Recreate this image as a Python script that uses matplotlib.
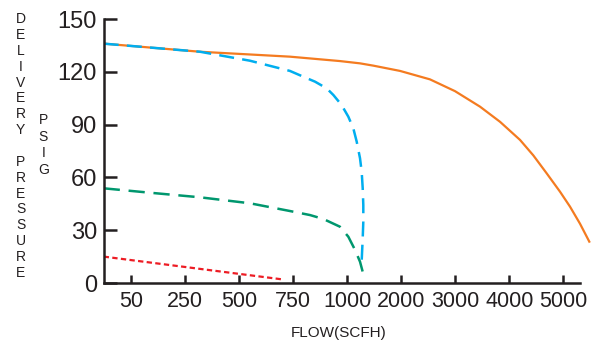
import numpy as np
import matplotlib
matplotlib.use("Agg")
import matplotlib.pyplot as plt
from matplotlib.ticker import FixedLocator, FixedFormatter

# Flow axis: tick values are evenly spaced on the chart, not proportional
flow_ticks = [50, 250, 500, 750, 1000, 2000, 3000, 4000, 5000]
tick_labels = ["50", "250", "500", "750", "1000", "2000", "3000", "4000", "5000"]
pressure_ticks = [0, 30, 60, 90, 120, 150]

# Regulator curves: flow (SCFH) vs delivery pressure (psig)
orange_flow = [25, 320, 736, 967, 1240, 1486, 1980, 2534, 2997, 3459, 3829,
               4199, 4445, 4692, 4938, 5123, 5308, 5480]
orange_psig = [136.0, 131.4, 128.6, 126.1, 124.8, 123.5, 120.5, 115.7, 109.0,
               100.2, 91.6, 81.3, 72.5, 62.3, 51.9, 43.4, 33.7, 23.5]

blue_flow = [25, 320, 551, 736, 798, 852, 906, 937, 975, 1024, 1116, 1179,
             1240, 1271, 1290, 1301, 1301, 1290, 1271]
blue_psig = [136.0, 131.4, 126.3, 120.5, 117.2, 114.4, 110.6, 106.8, 101.1,
             94.5, 87.9, 80.3, 70.9, 63.2, 53.8, 44.3, 34.8, 25.4, 12.5]

green_flow = [25, 121, 320, 551, 736, 829, 890, 967, 1024, 1148, 1240, 1314]
green_psig = [53.8, 51.3, 48.7, 45.3, 40.9, 38.6, 36.4, 32.0, 26.3, 18.8,
              12.1, 3.6]

red_flow = [25, 698]
red_psig = [15.0, 2.1]

# piecewise-linear flow scale (each labelled step takes the same width)
scale_flows = [0] + flow_ticks + [6000]
scale_pos = list(range(len(scale_flows)))


def fwd(x):
    return np.interp(x, scale_flows, scale_pos)


def inv(p):
    return np.interp(p, scale_pos, scale_flows)


W, H = 605, 345
fig = plt.figure(figsize=(W / 100, H / 100), dpi=100)
ax = fig.add_axes([104 / W, 62 / H, (592 - 104) / W, 264 / H])
ax.set_xscale("function", functions=(fwd, inv))

ink = "#231f20"
ax.plot(orange_flow, orange_psig, color="#f47b20", lw=1.6,
        solid_joinstyle="round")
ax.plot(blue_flow, blue_psig, color="#00aeef", lw=1.8, linestyle=(0, (6.0, 3.3)))
ax.plot(green_flow, green_psig, color="#00976e", lw=1.8, linestyle=(0, (6.5, 3.5)))
ax.plot(red_flow, red_psig, color="#ed1c24", lw=1.6, linestyle=(0, (2.4, 1.5)))

ax.set_xlim(25.3, 5530)
ax.set_ylim(0, 150)

for s in ["top", "right"]:
    ax.spines[s].set_visible(False)
for s in ["left", "bottom"]:
    ax.spines[s].set_linewidth(1.8)
    ax.spines[s].set_color(ink)
ax.spines["left"].set_bounds(0, 150)
ax.spines["bottom"].set_bounds(25.3, 5308)

ax.xaxis.set_major_locator(FixedLocator(flow_ticks))
ax.xaxis.set_major_formatter(FixedFormatter(tick_labels))
ax.xaxis.set_minor_locator(FixedLocator([]))
ax.set_yticks(pressure_ticks)

ax.tick_params(axis="y", direction="in", length=9.5, width=1.8, color=ink,
               pad=5, labelsize=17, labelcolor=ink)
ax.tick_params(axis="x", direction="in", length=6, width=1.8, color=ink,
               pad=6, labelsize=15.5, labelcolor=ink)
for lab in ax.get_xticklabels() + ax.get_yticklabels():
    lab.set_family("Liberation Sans")

fig.text(339 / W, 1 - 333 / H, "FLOW(SCFH)", ha="center", va="center",
         fontsize=11, family="Liberation Sans", color=ink)

fig.text(20.5 / W, 1 - 146 / H, "\n".join("DELIVERY PRESSURE"), ha="center",
         va="center", fontsize=10, family="Liberation Sans", color=ink,
         linespacing=1.17, multialignment="center")
fig.text(43.3 / W, 1 - 145 / H, "\n".join("PSIG"), ha="center", va="center",
         fontsize=10, family="Liberation Sans", color=ink, linespacing=1.22,
         multialignment="center")

fig.savefig("out.png", dpi=100)
